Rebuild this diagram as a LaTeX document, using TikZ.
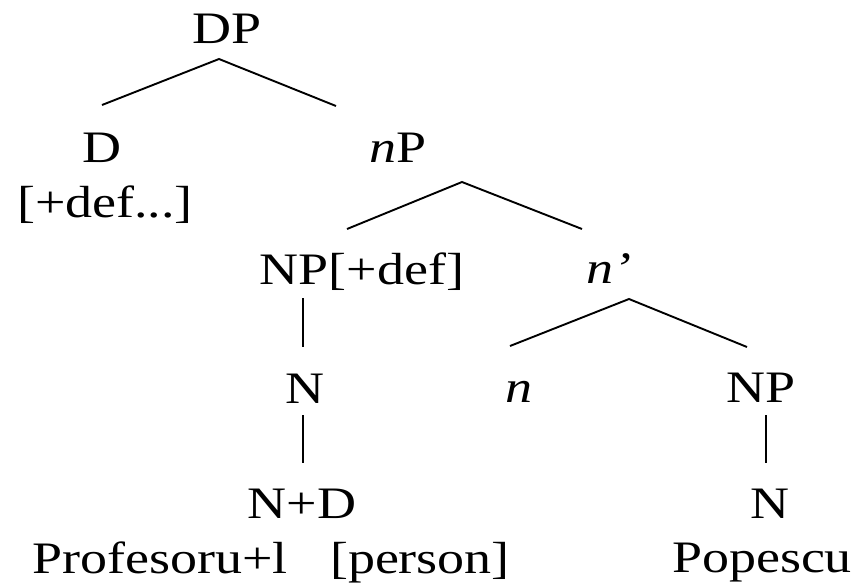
\documentclass[tikz,border=0pt]{standalone}
\usepackage{fontspec}
\setmainfont{Liberation Serif}[FakeStretch=1.2]
\begin{document}
\begin{tikzpicture}[x=0.5pt,y=-0.5pt,
  lbl/.style={inner sep=0pt,outer sep=0pt,anchor=base,font=\fontsize{22.5}{27}\selectfont},
  edge/.style={line width=0.95pt,black}]
\useasboundingbox (0,0) rectangle (859,585);
% nodes
\node[lbl] (DP)   at (227,43)  {DP};
\node[lbl] (D)    at (102,162) {D};
\node[lbl] (Ddef) at (105,217) {[+def...]};
\node[lbl] (nP)   at (398,162) {\textit{n}P};
\node[lbl] (NPd)  at (362,284) {NP[+def]};
\node[lbl] (nbar) at (609,283) {\textit{n’}};
\node[lbl] (N1)   at (305,403) {N};
\node[lbl] (ND)   at (302,518) {N+D};
\node[lbl] (Prof) at (160,573) {Profesoru+l};
\node[lbl] (pers) at (420,573) {[person]};
\node[lbl] (n)    at (519,402) {\textit{n}};
\node[lbl] (NP2)  at (761,402) {NP};
\node[lbl] (N2)   at (770,518) {N};
\node[lbl] (Pop)  at (762,572) {Popescu};
% connectors
\draw[edge] ([shift={(-62,-56)}]nP.base) -- ([shift={(-8,16)}]DP.base) -- ([shift={(0,-57)}]D.base);
\draw[edge] ([shift={(-15,-55)}]NPd.base) -- ([shift={(64,20)}]nP.base) -- ([shift={(-27,-54)}]nbar.base);
\draw[edge] ([shift={(-9,-56)}]n.base) -- ([shift={(20,16)}]nbar.base) -- ([shift={(-14,-55)}]NP2.base);
\draw[edge] ([shift={(-59,14)}]NPd.base) -- ([shift={(-2,-56)}]N1.base);
\draw[edge] ([shift={(-2,12)}]N1.base) -- ([shift={(1,-55)}]ND.base);
\draw[edge] ([shift={(5,13)}]NP2.base) -- ([shift={(-4,-55)}]N2.base);
\end{tikzpicture}
\end{document}
